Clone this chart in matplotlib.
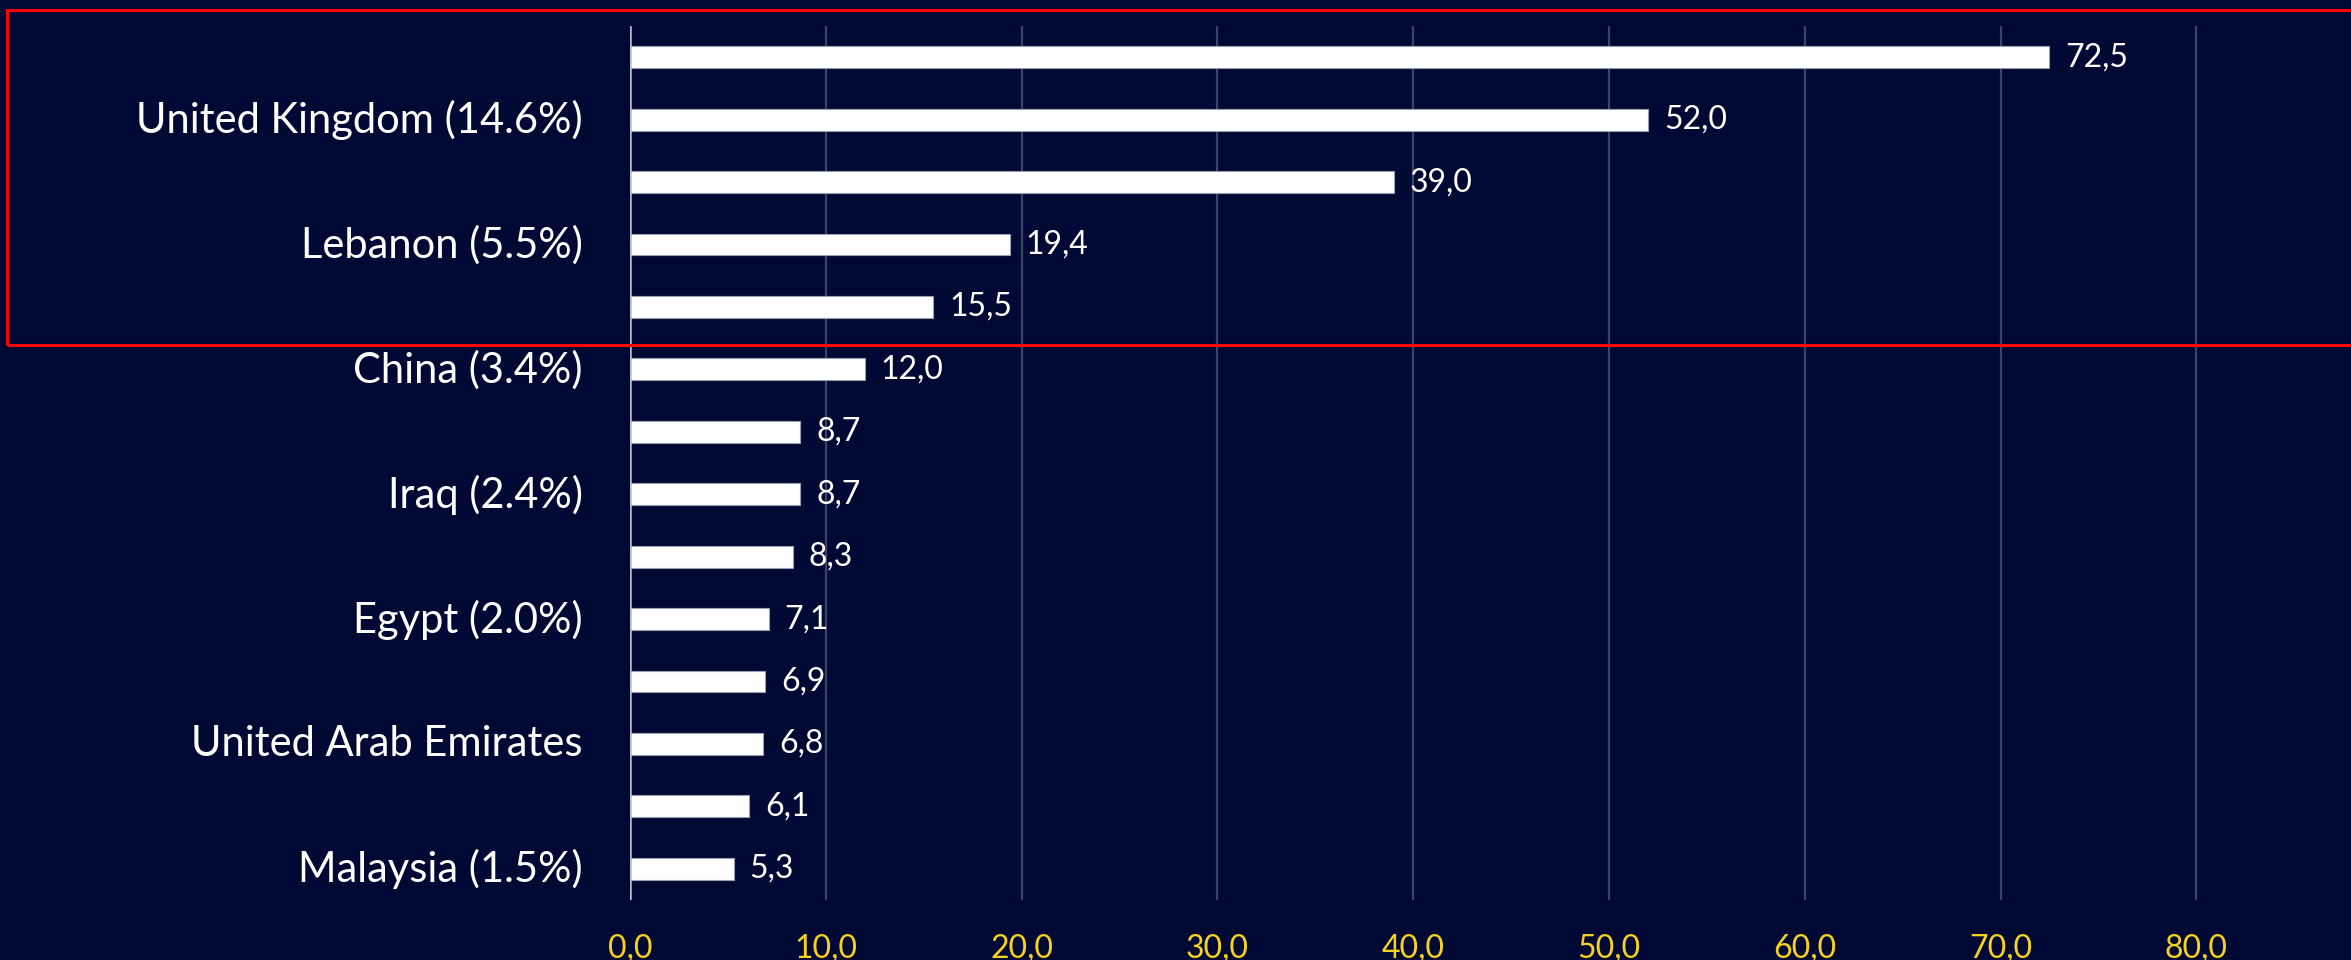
"""
Horizontal bar chart: values by country, dark theme.
"""

import matplotlib.pyplot as plt
import matplotlib
from matplotlib.patches import Rectangle
import numpy as np

matplotlib.rcParams['font.family'] = ['Lato', 'DejaVu Sans']

BG = '#000933'
YELLOW = '#F7D21C'

# Categories top to bottom; hidden tick labels are left blank
countries = ['', 'United Kingdom (14.6%)', '', 'Lebanon (5.5%)', '', 'China (3.4%)', '',
             'Iraq (2.4%)', '', 'Egypt (2.0%)', '', 'United Arab Emirates', '', 'Malaysia (1.5%)']
values = [72.5, 52.0, 39.0, 19.4, 15.5, 12.0, 8.7, 8.7, 8.3, 7.1, 6.9, 6.8, 6.1, 5.3]
xticks = [0, 10, 20, 30, 40, 50, 60, 70, 80]

fig = plt.figure(figsize=(23.51, 9.60), dpi=100, facecolor=BG)
ax = fig.add_axes([630 / 2351, 60 / 960, 1 - 630 / 2351, 874 / 960])
ax.set_facecolor(BG)

y = np.arange(len(values))
bars = ax.barh(y, values, height=0.35, color='white', edgecolor='#9aa0b4', linewidth=0.8, zorder=3)
for bar, v in zip(bars, values):
    ax.text(bar.get_width() + 0.8, bar.get_y() + bar.get_height() / 2,
            f'{v:.1f}'.replace('.', ','), va='center', ha='left',
            fontsize=23, color='white', zorder=4)

ax.set_ylim(len(values) - 0.5, -0.5)
ax.set_xlim(0, 87.9)
ax.set_yticks(y)
ax.set_yticklabels(countries, fontsize=30, color='white')
ax.set_xticks(xticks)
ax.set_xticklabels([f'{t:.1f}'.replace('.', ',') for t in xticks], fontsize=23, color=YELLOW)
ax.tick_params(axis='both', length=0)
ax.tick_params(axis='y', pad=34)
ax.tick_params(axis='x', pad=24)
for lbl in ax.get_yticklabels():
    lbl.set_y(lbl.get_position()[1])
    lbl.set_transform(lbl.get_transform() + matplotlib.transforms.ScaledTranslation(0, 3 / 100, fig.dpi_scale_trans))

for t in xticks[1:]:
    ax.axvline(t, color='#3c4466', linewidth=1.6, zorder=1)
ax.axvline(0, color='#b8bccb', linewidth=1.8, zorder=5)

for s in ax.spines.values():
    s.set_visible(False)

# red highlight box around the top five bars
fig.patches.append(Rectangle((7 / 2351, 1 - 345 / 960), 2400 / 2351, 335 / 960,
                             transform=fig.transFigure, fill=False,
                             edgecolor='#ff0000', linewidth=2.2, zorder=10))

plt.savefig('out.png', dpi=100, facecolor=BG)
plt.close()
